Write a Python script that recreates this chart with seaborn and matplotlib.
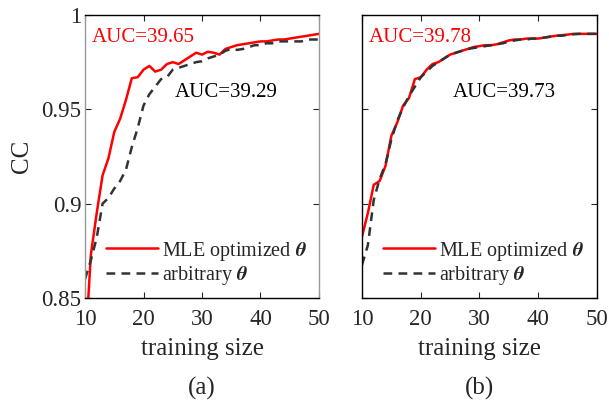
import numpy as np
import pandas as pd
import matplotlib
matplotlib.use('Agg')
import matplotlib.pyplot as plt
import seaborn as sns

# ----------------------- Données -------------------------------------------
training_size = list(range(10, 51))

# (a)
cc_mle_a = [0.820, 0.873, 0.895, 0.915, 0.924, 0.938, 0.945, 0.955, 0.9665, 0.967,
            0.971, 0.973, 0.970, 0.971, 0.974, 0.975, 0.974, 0.976, 0.978, 0.980,
            0.979, 0.9805, 0.980, 0.979, 0.982, 0.983, 0.984, 0.9845, 0.985, 0.9855,
            0.986, 0.986, 0.9865, 0.987, 0.987, 0.9875, 0.988, 0.9885, 0.989, 0.9895,
            0.990]
cc_arb_a = [0.860, 0.870, 0.882, 0.900, 0.903, 0.908, 0.912, 0.918, 0.930, 0.940,
            0.952, 0.958, 0.962, 0.966, 0.967, 0.971, 0.972, 0.973, 0.974, 0.975,
            0.9755, 0.977, 0.978, 0.979, 0.981, 0.982, 0.9815, 0.982, 0.983, 0.984,
            0.984, 0.985, 0.985, 0.986, 0.986, 0.986, 0.986, 0.986, 0.987, 0.987,
            0.987]

# (b)
cc_mle_b = [0.8825, 0.895, 0.910, 0.912, 0.920, 0.936, 0.943, 0.952, 0.956, 0.966,
            0.967, 0.971, 0.974, 0.975, 0.977, 0.979, 0.980, 0.981, 0.982, 0.983,
            0.9835, 0.984, 0.984, 0.9845, 0.9855, 0.9865, 0.987, 0.987, 0.9875, 0.9875,
            0.9875, 0.988, 0.9885, 0.989, 0.9893, 0.9896, 0.990, 0.990, 0.990, 0.990,
            0.990]
cc_arb_b = [0.8675, 0.878, 0.902, 0.913, 0.921, 0.934, 0.944, 0.951, 0.957, 0.962,
            0.967, 0.970, 0.973, 0.975, 0.977, 0.979, 0.980, 0.981, 0.982, 0.9825,
            0.983, 0.9835, 0.984, 0.9845, 0.985, 0.986, 0.9865, 0.987, 0.987, 0.9875,
            0.9875, 0.988, 0.9885, 0.989, 0.989, 0.9895, 0.9898, 0.990, 0.990, 0.990,
            0.990]

auc_a = ['AUC=39.65', 'AUC=39.29']
auc_b = ['AUC=39.78', 'AUC=39.73']
panel_labels = ['(a)', '(b)']

# ----------------------- Style ------------------------
sns.set_style('ticks')
plt.rcParams['font.family'] = ['Liberation Serif', 'DejaVu Serif']
plt.rcParams['mathtext.fontset'] = 'stix'
plt.rcParams['font.size'] = 15
plt.rcParams['xtick.direction'] = 'in'
plt.rcParams['ytick.direction'] = 'in'

fig = plt.figure(figsize=(6.09, 4.05), dpi=100)
ax1 = fig.add_axes([0.1396, 0.2642, 0.3842, 0.6988])
ax2 = fig.add_axes([0.5944, 0.2642, 0.3859, 0.6988])

panels = [(ax1, cc_mle_a, cc_arb_a, auc_a), (ax2, cc_mle_b, cc_arb_b, auc_b)]

for i, (ax, mle, arb, auc) in enumerate(panels):
    sns.lineplot(x=training_size, y=mle, ax=ax, color='#ff0000', lw=1.8,
                 label=r'MLE optimized $\boldsymbol{\theta}$')
    sns.lineplot(x=training_size, y=arb, ax=ax, color='#333333', lw=1.8,
                 dashes=False, label=r'arbitrary $\boldsymbol{\theta}$')
    ax.lines[1].set_dashes((3.5, 2.5))
    ax.set_xlim(10, 50)
    ax.set_ylim(0.85, 1.0)
    ax.set_xticks([10, 20, 30, 40, 50])
    ax.set_yticks([0.85, 0.9, 0.95, 1])
    ax.tick_params(top=True, right=True, labelsize=16.5, length=4, width=0.8)
    ax.tick_params(axis='x', pad=8)
    ax.tick_params(axis='y', pad=2.5)
    for sp in ax.spines.values():
        sp.set_visible(True)
        sp.set_linewidth(1.0)
        sp.set_color('black')
    ax.set_xlabel('training size', fontsize=18, labelpad=6)
    ax.text(0.5, -0.318, panel_labels[i], transform=ax.transAxes, ha='center',
            va='center', fontsize=18)
    ax.text(0.03, 0.92, auc[0], transform=ax.transAxes, color='#ff0000',
            ha='left', va='center', fontsize=15)
    ax.text(0.385, 0.725, auc[1], transform=ax.transAxes, color='black',
            ha='left', va='center', fontsize=15)
    ax.legend(loc='lower left', bbox_to_anchor=(0.055, 0.01), frameon=False,
              fontsize=14.5, handlelength=2.6, handletextpad=0.2,
              labelspacing=0.08, borderaxespad=0.0)

ax1.set_ylabel('CC', fontsize=18, labelpad=6)
ax1.set_yticklabels(['0.85', '0.9', '0.95', '1'])
ax2.set_yticklabels([])
ax2.set_ylabel('')
ax1.spines['left'].set_color('#999999')
ax1.spines['right'].set_color('#999999')

fig.savefig('out.png', dpi=100)
